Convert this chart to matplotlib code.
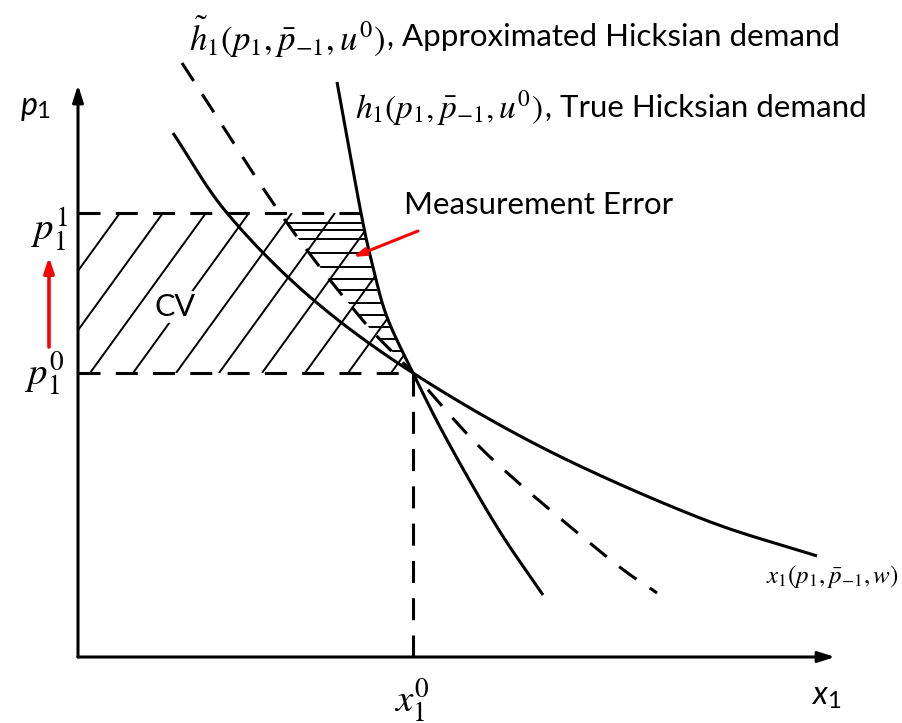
import numpy as np
import matplotlib
matplotlib.use("Agg")
import matplotlib.pyplot as plt
from matplotlib.patches import Polygon
from matplotlib.collections import LineCollection

plt.rcParams.update({
    "font.family": ["Lato", "DejaVu Sans"],
    "mathtext.fontset": "stix",
})

# control points of the three demand curves (x1, p1), origin at the axes corner
hick_x = [259, 283, 295, 309, 335, 369, 419, 465]
hick_y = [575, 444, 390, 340, 284, 217, 130, 62]

approx_x = [104, 202, 282, 335, 412, 529, 579]
approx_y = [594, 444, 340, 284, 200, 100, 64]

marsh_x = [95, 149, 232, 335, 469, 622, 739]
marsh_y = [524, 444, 360, 284, 207, 139, 101]

x0 = 335          # x1^0
p0 = 284          # p1^0
p1 = 444          # p1^1
x_max, y_max = 757, 572

# horizontal hatch levels inside the measurement-error band
err_levels = [434, 427, 418, 404, 390, 378, 367, 354, 342, 330, 318, 306]

BLACK = "#000000"
RED = "#FF0000"


def smooth(xs, ys, n=40):
    # Catmull-Rom curve through the control points
    pts = np.column_stack([xs, ys]).astype(float)
    pts = np.vstack([2 * pts[0] - pts[1], pts, 2 * pts[-1] - pts[-2]])
    t = np.linspace(0, 1, n, endpoint=False)[:, None]
    out = []
    for i in range(1, len(pts) - 2):
        a, b, c, d = pts[i - 1:i + 3]
        out.append(0.5 * (2 * b + (c - a) * t + (2 * a - 5 * b + 4 * c - d) * t ** 2
                          + (-a + 3 * b - 3 * c + d) * t ** 3))
    out.append(pts[-2][None])
    return np.vstack(out)


def x_at(curve, y):
    order = np.argsort(curve[:, 1])
    return np.interp(y, curve[order, 1], curve[order, 0])


fig = plt.figure(figsize=(9.02, 7.23), dpi=100)
ax = fig.add_axes([0, 0, 1, 1])
ax.set_xlim(-78, 824)
ax.set_ylim(-66, 657)
ax.axis("off")

hick = smooth(hick_x, hick_y)
approx = smooth(approx_x, approx_y)
marsh = smooth(marsh_x, marsh_y)

# axes with arrow heads
for tip in [(0, y_max), (x_max, 0)]:
    ax.annotate("", xy=tip, xytext=(0, 0),
                arrowprops=dict(arrowstyle="-|>,head_length=1.0,head_width=0.32",
                                color=BLACK, lw=2.2, shrinkA=0, shrinkB=0))

# CV area: diagonal hatching left of the true Hicksian curve
ys = np.linspace(p0, p1, 60)
cv_poly = np.vstack([[0, p0], [0, p1], np.column_stack([x_at(hick, ys[::-1]), ys[::-1]])])
cv_patch = Polygon(cv_poly, closed=True, fc="none", ec="none")
ax.add_patch(cv_patch)
slope = 1.38
segs = [[(s, p0), (s + (p1 - p0) / slope, p1)] for s in np.arange(-160, 320, 43)]
lc = LineCollection(segs, colors=BLACK, linewidths=1.4)
ax.add_collection(lc)
lc.set_clip_path(cv_patch)

# measurement error: horizontal hatching between the two Hicksian curves
err_poly = np.vstack([np.column_stack([x_at(approx, ys), ys]),
                      np.column_stack([x_at(hick, ys[::-1]), ys[::-1]])])
err_patch = Polygon(err_poly, closed=True, fc="none", ec="none")
ax.add_patch(err_patch)
segs = [[(0, v), (400, v)] for v in err_levels]
lc2 = LineCollection(segs, colors=BLACK, linewidths=1.4)
ax.add_collection(lc2)
lc2.set_clip_path(err_patch)

# demand curves
ax.plot(hick[:, 0], hick[:, 1], color=BLACK, lw=2.2, solid_capstyle="butt")
ax.plot(marsh[:, 0], marsh[:, 1], color=BLACK, lw=2.2, solid_capstyle="butt")
ax.plot(approx[:, 0], approx[:, 1], color=BLACK, lw=2.2, ls=(0, (7.0, 5.2)))

# price levels and x1^0
dash = (0, (7.2, 5.0))
ax.plot([0, x_at(hick, p1)], [p1, p1], color=BLACK, lw=2.2, ls=dash)
ax.plot([0, x0], [p0, p0], color=BLACK, lw=2.2, ls=dash)
ax.plot([x0, x0], [0, p0], color=BLACK, lw=2.2, ls=dash)

# price increase arrow
ax.annotate("", xy=(-29, 400), xytext=(-29, 310),
            arrowprops=dict(arrowstyle="-|>,head_length=0.9,head_width=0.3",
                            color=RED, lw=2.6, shrinkA=0, shrinkB=0))
ax.annotate("", xy=(275, 400), xytext=(340, 426),
            arrowprops=dict(arrowstyle="-|>,head_length=0.7,head_width=0.22",
                            color=RED, lw=2.2, shrinkA=0, shrinkB=0))

# axis names
ax.text(-49, 551, "p", fontsize=23, style="italic", ha="center", va="center")
ax.text(-35, 545, "1", fontsize=17, ha="center", va="center")
ax.text(741, -38, "x", fontsize=23, style="italic", ha="center", va="center")
ax.text(756, -44, "1", fontsize=17, ha="center", va="center")

# price and quantity levels
ax.text(-28, 428, r"$p_1^1$", fontsize=28, ha="center", va="center")
ax.text(-33, 284, r"$p_1^0$", fontsize=28, ha="center", va="center")
ax.text(334, -43, r"$x_1^0$", fontsize=28, ha="center", va="center")
ax.text(97, 350, "CV", fontsize=22, ha="center", va="center",
        bbox=dict(fc="white", ec="none", pad=1))
ax.text(326, 452, "Measurement Error", fontsize=22.5, ha="left", va="center")

ax.text(307, 620, r"$\tilde{h}_1(p_1,\bar{p}_{-1},u^0)$", fontsize=25,
        ha="right", va="center")
ax.text(309, 620, ", Approximated Hicksian demand", fontsize=22.5,
        ha="left", va="center")
ax.text(465, 549, r"$h_1(p_1,\bar{p}_{-1},u^0)$", fontsize=24,
        ha="right", va="center")
ax.text(467, 549, ", True Hicksian demand", fontsize=22.5, ha="left", va="center")
ax.text(821, 80, r"$x_1(p_1,\bar{p}_{-1},w)$", fontsize=18, ha="right", va="center")

fig.savefig("out.png", dpi=100)
